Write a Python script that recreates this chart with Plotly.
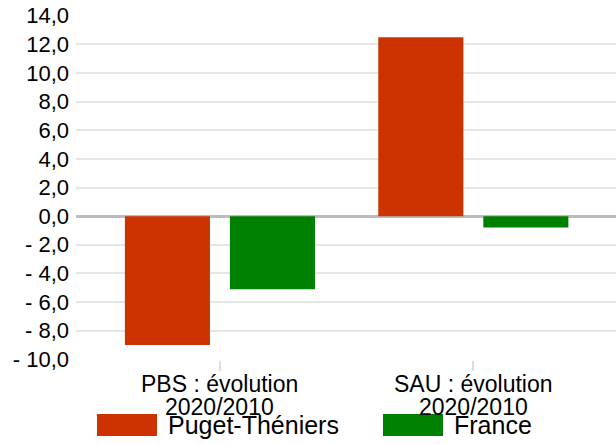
import plotly.graph_objects as go

categories = ["PBS : évolution 2020/2010", "SAU : évolution 2020/2010"]
category_line1 = ["PBS : évolution", "SAU : évolution"]
category_line2 = ["2020/2010", "2020/2010"]
series_names = ["Puget-Théniers", "France"]
puget_values = [-9.0, 12.5]
france_values = [-5.1, -0.8]
series_colors = ["#cc3300", "#008000"]
y_tick_values = [-10, -8, -6, -4, -2, 0, 2, 4, 6, 8, 10, 12, 14]


def fmt(v):
    s = f"{abs(v):.1f}".replace(".", ",")
    return ("- " + s) if v < 0 else s


y_tick_text = [fmt(v) for v in y_tick_values]

FONT = "Liberation Sans, Arial, Helvetica, sans-serif"

W, H = 616, 444
L, R, T, B = 76, 0, 15, 84
PW, PH = W - L - R, H - T - B


def px(sx):
    return (sx - L) / PW


def py(sy):
    return (H - B - sy) / PH


fig = go.Figure()
for name, vals, col in zip(series_names, [puget_values, france_values], series_colors):
    fig.add_trace(go.Bar(x=categories, y=vals, name=name,
                         marker=dict(color=col, line=dict(width=0)),
                         showlegend=False))

fig.update_layout(
    width=W, height=H,
    margin=dict(l=L, r=R, t=T, b=B, autoexpand=False),
    paper_bgcolor="white", plot_bgcolor="white",
    barmode="group", bargap=0.171, bargroupgap=0.19,
    font=dict(family=FONT, color="#000000"),
)
fig.update_xaxes(
    type="category", range=[-0.568, 1.563],
    showticklabels=False,
    ticks="outside", ticklen=10, tickwidth=2, tickcolor="#dddddd",
    showgrid=False, showline=False, zeroline=False,
)
fig.update_yaxes(
    range=[-10.05, 14.05],
    tickvals=y_tick_values, ticktext=y_tick_text,
    tickfont=dict(size=22, color="#000000"),
    showgrid=True, gridcolor="#e6e6e6", gridwidth=2,
    zeroline=True, zerolinecolor="#bbbbbb", zerolinewidth=3,
    showline=False, ticks="", ticklabelstandoff=6,
    ticklabeloverflow="allow",
)

# category labels (two lines each)
for cat, l1, l2 in zip(categories, category_line1, category_line2):
    fig.add_annotation(xref="x", yref="paper", x=cat, y=py(383.8), text=l1,
                       showarrow=False, xanchor="center", yanchor="middle",
                       font=dict(size=23, color="#000000", family=FONT))
    fig.add_annotation(xref="x", yref="paper", x=cat, y=py(407.2), text=l2,
                       showarrow=False, xanchor="center", yanchor="middle",
                       font=dict(size=23, color="#000000", family=FONT))

# manual legend
legend_x = [97, 383]
for i, (name, col) in enumerate(zip(series_names, series_colors)):
    fig.add_shape(type="rect", xref="paper", yref="paper",
                  x0=px(legend_x[i]), x1=px(legend_x[i] + 60),
                  y0=py(436), y1=py(414),
                  fillcolor=col, line=dict(width=0))
    fig.add_annotation(xref="paper", yref="paper",
                       x=px(legend_x[i] + 69), y=py(425),
                       text=name, showarrow=False, xanchor="left", yanchor="middle",
                       font=dict(size=25, color="#000000", family=FONT))

fig.write_html("out.html",
               config={"displayModeBar": False, "staticPlot": True},
               post_script="document.body.style.margin='0';document.body.style.padding='0';")
